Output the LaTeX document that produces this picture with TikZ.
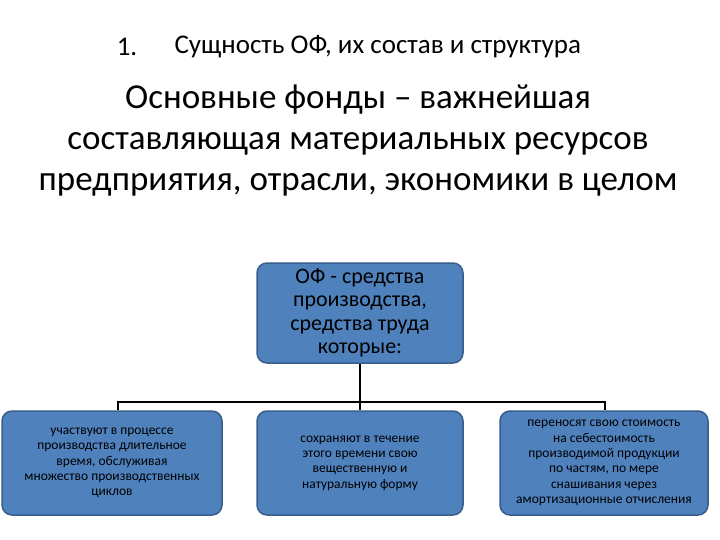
\documentclass[tikz,border=0pt]{standalone}
\usepackage{fontspec}
\setmainfont{Carlito}
\definecolor{boxfill}{HTML}{4F81BD}
\definecolor{boxline}{HTML}{385D8A}
\begin{document}
\begin{tikzpicture}[x=1pt,y=-1pt,
  box/.style={draw=boxline,line width=1.5pt,fill=boxfill,rounded corners=10pt,align=center,inner sep=1pt},
  conn/.style={line width=1.5pt,black}]
\useasboundingbox (0,0) rectangle (720,540);
\node[font=\fontsize{27}{30}\selectfont] (num) at (127,47) {1.};
\node[font=\fontsize{27}{30}\selectfont,anchor=west] (title) at (171,47) {Сущность ОФ, их состав и структура};
\node[font=\fontsize{35}{41}\selectfont,align=center] (main) at (358,141) {Основные фонды – важнейшая\\составляющая материальных ресурсов\\предприятия, отрасли, экономики в целом};
\node[box,minimum width=206pt,minimum height=100pt,font=\fontsize{22}{23.5}\selectfont] (top) at (360,313) {ОФ - средства\\производства,\\средства труда\\которые:};
\node[box,minimum width=220pt,minimum height=104pt,font=\fontsize{13.5}{15.3}\selectfont] (b1) at (112,463) {участвуют в процессе\\производства длительное\\время, обслуживая\\множество производственных\\циклов};
\node[box,minimum width=206pt,minimum height=104pt,font=\fontsize{13.5}{15.3}\selectfont] (b2) at (360,463) {сохраняют в течение\\этого времени свою\\вещественную и\\натуральную форму};
\node[box,minimum width=208pt,minimum height=104pt,font=\fontsize{13.5}{15.3}\selectfont] (b3) at (604,463) {переносят свою стоимость\\на себестоимость\\производимой продукции\\по частям, по мере\\снашивания через\\амортизационные отчисления};
\coordinate (j) at (360,402);
\draw[conn] (top.south) -- (j);
\draw[conn] (b1.north -| 118,0) |- (j) -| (b3.north -| 605,0);
\draw[conn] (j) -- (b2.north);
\end{tikzpicture}
\end{document}
